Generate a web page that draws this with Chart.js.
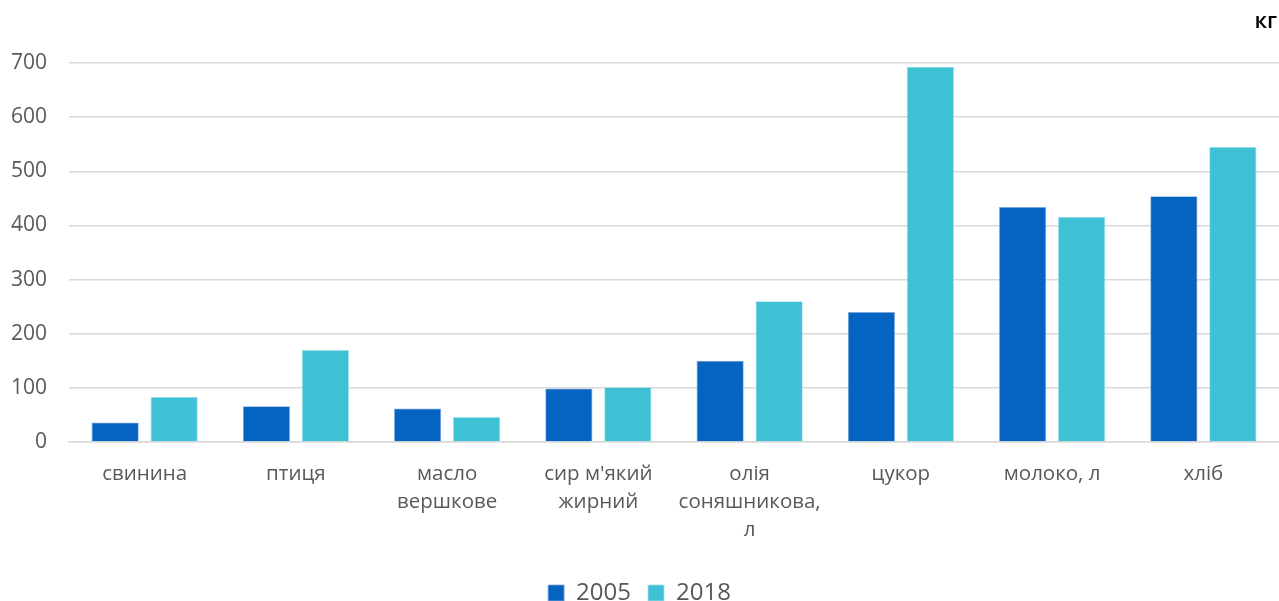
<!DOCTYPE html>
<html><head><meta charset="utf-8">
<script src="https://cdn.jsdelivr.net/npm/chart.js@4/dist/chart.umd.min.js"></script>
<style>html,body{margin:0;padding:0;background:#fff;}#wrap{width:1279px;height:601px;position:relative;}</style>
</head><body>
<div id="wrap"><canvas id="c" width="1279" height="601"></canvas></div>
<script>
const categories = [["свинина"],["птиця"],["масло","вершкове"],["сир м'який","жирний"],["олія","соняшникова,","л"],["цукор"],["молоко, л"],["хліб"]];
const series2005 = [36, 66, 62, 99, 150, 240, 434, 454];
const series2018 = [83, 170, 46, 101, 260, 693, 416, 545];
const yTicks = [0, 100, 200, 300, 400, 500, 600, 700];
const unitLabel = "кг";
const FONT = "'Open Sans', 'Noto Sans', sans-serif";

const unitPlugin = {
  id: 'unit',
  afterDraw(chart) {
    const ctx = chart.ctx;
    ctx.save();
    ctx.font = "600 22px " + FONT;
    ctx.fillStyle = '#000';
    ctx.textAlign = 'right';
    ctx.textBaseline = 'middle';
    ctx.fillText(unitLabel, 1277, 22);
    ctx.restore();
  }
};

new Chart(document.getElementById('c'), {
  type: 'bar',
  data: {
    labels: categories,
    datasets: [
      {label: '2005', data: series2005, backgroundColor: '#0563C1', borderColor: '#7FA9DD', borderWidth: 0.8},
      {label: '2018', data: series2018, backgroundColor: '#3FC1D5', borderColor: '#9EE0EA', borderWidth: 0.8}
    ]
  },
  plugins: [unitPlugin],
  options: {
    responsive: false,
    animation: false,
    maintainAspectRatio: false,
    layout: {padding: {top: 63, right: 0, left: 0, bottom: -14}},
    datasets: {bar: {categoryPercentage: 0.78, barPercentage: 0.8}},
    plugins: {
      tooltip: {enabled: false},
      legend: {
        position: 'bottom',
        labels: {
          font: {family: FONT, size: 24},
          color: '#595959',
          boxWidth: 16, boxHeight: 16,
          padding: 17
        }
      }
    },
    scales: {
      x: {
        grid: {display: false, drawTicks: false},
        border: {display: true, color: '#d9d9d9', width: 1.5},
        ticks: {font: {family: FONT, size: 20.5, lineHeight: 1.37}, color: '#595959', padding: 18, maxRotation: 0, autoSkip: false},
        afterFit(scale) { scale.height = 122; }
      },
      y: {
        min: 0, max: 700,
        afterBuildTicks(scale) { scale.ticks = yTicks.map(v => ({value: v})); },
        grid: {color: '#d9d9d9', lineWidth: 1.5, drawTicks: false},
        border: {display: false},
        ticks: {font: {family: FONT, size: 21}, color: '#595959', padding: 22},
        afterFit(scale) { scale.width = 69; }
      }
    }
  }
});
</script>
</body></html>
